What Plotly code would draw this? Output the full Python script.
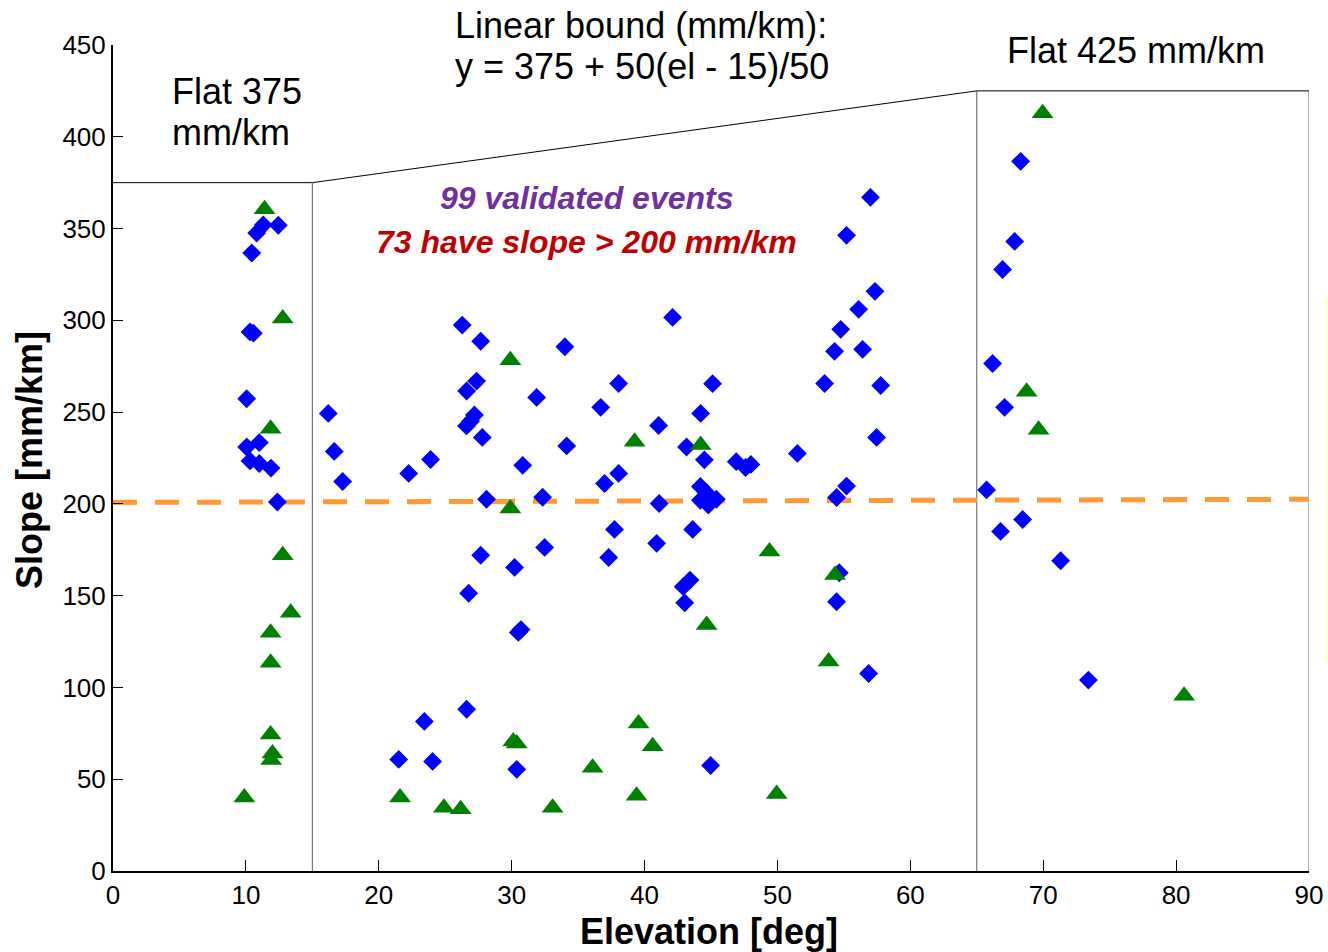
import plotly.graph_objects as go

# ---------------- data ----------------
diamond_x = [12.44, 11.31, 10.81, 10.44, 10.31, 10.56, 10.06, 10.06, 11.01, 10.31, 11.01, 11.89, 12.37,
             26.28, 27.67, 34.0, 27.36, 26.61, 31.88, 16.2, 27.2, 26.9, 26.6, 27.79, 34.14, 16.65, 23.9,
             30.83, 22.25, 17.28, 28.11, 32.33, 27.67, 32.48, 30.22, 26.76,
             30.5, 30.7, 26.61, 23.43, 21.5, 24.05, 30.38, 44.97,
             42.11, 38.05, 45.12, 36.7, 44.22, 41.06, 43.16, 44.5, 46.9, 47.6, 48.0, 38.05, 36.99, 41.1,
             44.2, 44.67, 44.2, 44.8, 45.4, 37.74, 43.62, 40.91, 37.3, 43.42, 42.91, 43.02, 51.5,
             57.0, 55.2, 57.34, 56.11, 54.76, 54.3, 56.41, 53.55, 57.77, 57.46, 55.2, 54.45, 54.65, 54.45, 56.86,
             68.3, 67.85, 66.94, 66.19, 67.09, 65.74, 68.45, 66.79, 71.31, 73.4]
diamond_y = [351.8, 352.0, 347.6, 336.7, 293.7, 293.0, 257.3, 231.0, 233.4, 223.4, 222.0, 219.5, 201.0,
             297.4, 288.6, 285.6, 266.9, 261.5, 258.0, 249.3, 248.4, 245.0, 242.5, 236.2, 231.6, 228.6, 224.2,
             221.0, 216.6, 212.2, 202.5, 203.6, 172.0, 176.3, 165.4, 151.3,
             130.0, 131.5, 88.1, 81.5, 60.8, 59.7, 55.4, 57.5,
             301.6, 265.6, 265.5, 252.6, 249.3, 242.7, 231.0, 224.0, 223.0, 219.8, 221.5, 216.6, 211.1, 200.2,
             209.5, 206.0, 202.0, 199.4, 202.5, 186.1, 186.1, 178.5, 170.8, 158.5, 154.9, 146.1, 227.5,
             367.0, 346.3, 315.8, 306.0, 295.1, 283.1, 284.2, 265.6, 264.5, 236.2, 209.7, 203.5, 162.5, 146.7, 107.6,
             386.6, 343.0, 327.7, 276.5, 252.6, 207.6, 191.5, 185.0, 169.0, 104.0]

triangle_x = [11.4, 12.77, 11.86, 12.77, 13.37, 11.86, 11.86, 11.86, 12.0, 11.9, 9.88,
              29.9, 29.9, 39.55, 30.12, 30.38, 40.61, 36.09, 21.6, 39.4, 24.9, 26.16, 33.08, 49.94,
              39.25, 44.22, 44.67, 49.4, 54.33, 53.85, 69.95, 68.75, 69.65, 80.6]
triangle_y = [360.5, 301.0, 241.0, 172.0, 140.7, 129.8, 113.5, 74.3, 64.0, 60.5, 40.0,
              278.3, 197.5, 80.4, 70.5, 69.5, 68.0, 56.3, 40.0, 41.0, 34.5, 33.6, 34.5, 42.0,
              233.9, 232.1, 134.0, 174.1, 161.2, 114.1, 412.8, 261.1, 240.4, 95.5]

bound_x = [0, 15, 65, 90]
bound_y = [375, 375, 425, 425]
threshold_x = [0, 90]
threshold_y = [200.8, 202.5]

x_ticks = [0, 10, 20, 30, 40, 50, 60, 70, 80, 90]
y_ticks = [0, 50, 100, 150, 200, 250, 300, 350, 400, 450]

FONT = "Liberation Sans, Arial, sans-serif"

fig = go.Figure()

# boundary: flat / linear / flat
fig.add_trace(go.Scatter(x=bound_x, y=bound_y, mode="lines",
                         line=dict(color="black", width=1), cliponaxis=False,
                         hoverinfo="skip", showlegend=False))
# vertical separators
for bx, by in zip(bound_x[1:], bound_y[1:]):
    fig.add_trace(go.Scatter(x=[bx, bx], y=[0, by], mode="lines",
                             line=dict(color="#5a5a5a", width=1), cliponaxis=False,
                             hoverinfo="skip", showlegend=False))

# threshold dashed line
fig.add_trace(go.Scatter(x=threshold_x, y=threshold_y, mode="lines",
                         line=dict(color="#FF9933", width=5, dash="24px,18px"),
                         cliponaxis=False, hoverinfo="skip", showlegend=False))

fig.add_trace(go.Scatter(x=diamond_x, y=diamond_y, mode="markers",
                         marker=dict(symbol="diamond", size=14.5, color="#0000FF",
                                     line=dict(width=0)),
                         cliponaxis=False, showlegend=False))
fig.add_trace(go.Scatter(x=triangle_x, y=triangle_y, mode="markers",
                         marker=dict(symbol="triangle-up", size=19, color="#008000",
                                     line=dict(width=0)),
                         cliponaxis=False, showlegend=False))

ann = []
def txt(x, y, s, size=36, color="black", xanchor="left", angle=0):
    ann.append(dict(x=x, y=y, xref="paper", yref="paper", text=s, showarrow=False,
                    xanchor=xanchor, yanchor="middle", textangle=angle,
                    font=dict(family=FONT, size=size, color=color)))

txt(0.2843, 1.0242, "Linear bound (mm/km):")
txt(0.2843, 0.9734, "y = 375 + 50(el - 15)/50")
txt(0.7458, 0.9939, "Flat 425 mm/km")
txt(0.0477, 0.9431, "Flat 375")
txt(0.0477, 0.8935, "mm/km")
txt(0.3963, 0.8148, "<b><i>99 validated events</i></b>", size=32, color="#7030A0", xanchor="center")
txt(0.3963, 0.7615, "<b><i>73 have slope &gt; 200 mm/km</i></b>", size=32, color="#C00000", xanchor="center")
txt(0.4983, -0.0738, "<b>Elevation [deg]</b>", size=36, xanchor="center")
txt(-0.0694, 0.4976, "<b>Slope [mm/km]</b>", size=36, xanchor="center", angle=-90)

fig.update_layout(
    width=1328, height=952,
    margin=dict(l=113, r=19, t=45, b=81, autoexpand=False),
    paper_bgcolor="white", plot_bgcolor="white",
    font=dict(family=FONT, size=26, color="black"),
    annotations=ann,
    showlegend=False,
    shapes=[dict(type="line", xref="paper", yref="paper", x0=1.0147, x1=1.0147,
                 y0=0.252, y1=0.697, line=dict(color="#FFFFC8", width=2))],
)
fig.update_xaxes(range=[0, 90], tickvals=x_ticks, ticktext=[str(v) for v in x_ticks],
                 ticks="inside", ticklen=11, tickwidth=1, tickcolor="black",
                 showline=True, linecolor="black", linewidth=2, mirror=False,
                 showgrid=False, zeroline=False, tickfont=dict(size=26, family=FONT),
                 ticklabelstandoff=0, automargin=False)
fig.update_yaxes(range=[0, 450], tickvals=y_ticks, ticktext=[str(v) for v in y_ticks],
                 ticks="inside", ticklen=10, tickwidth=1, tickcolor="black",
                 showline=True, linecolor="black", linewidth=2, mirror=False,
                 showgrid=False, zeroline=False, tickfont=dict(size=26, family=FONT),
                 ticklabelstandoff=0, automargin=False)

fig.write_html("out.html", config={"displayModeBar": False},
               post_script="document.body.style.margin='0';document.body.style.overflow='hidden';")
